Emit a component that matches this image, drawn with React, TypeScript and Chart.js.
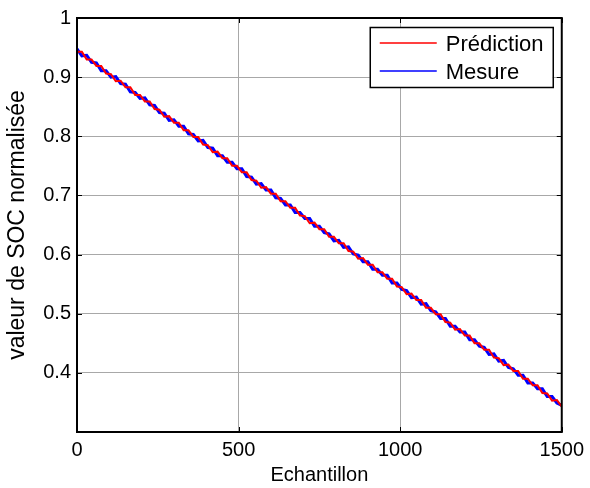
import React, { useEffect, useRef } from "react";
import { Chart, registerables } from "chart.js";

Chart.register(...registerables);

// Sample index step between stored points (samples 0..1500)
const SAMPLE_STEP = 15;

const prediction: number[] = [
  0.943, 0.943, 0.930, 0.930, 0.919, 0.919, 0.906, 0.905, 0.893, 0.894,
  0.883, 0.883, 0.870, 0.870, 0.859, 0.859, 0.846, 0.845, 0.833, 0.834,
  0.823, 0.823, 0.810, 0.810, 0.799, 0.799, 0.786, 0.785, 0.773, 0.774,
  0.763, 0.763, 0.750, 0.750, 0.739, 0.739, 0.726, 0.725, 0.713, 0.714,
  0.703, 0.703, 0.690, 0.690, 0.679, 0.679, 0.666, 0.665, 0.653, 0.654,
  0.643, 0.643, 0.630, 0.630, 0.619, 0.619, 0.606, 0.605, 0.593, 0.594,
  0.583, 0.583, 0.570, 0.570, 0.559, 0.559, 0.546, 0.545, 0.533, 0.534,
  0.523, 0.523, 0.510, 0.510, 0.499, 0.499, 0.486, 0.485, 0.473, 0.474,
  0.463, 0.463, 0.450, 0.450, 0.439, 0.439, 0.426, 0.425, 0.413, 0.414,
  0.403, 0.403, 0.390, 0.390, 0.379, 0.379, 0.366, 0.365, 0.353, 0.354,
  0.343,
];

const mesure: number[] = [
  0.948, 0.936, 0.937, 0.925, 0.924, 0.911, 0.911, 0.900, 0.901, 0.889,
  0.888, 0.875, 0.874, 0.864, 0.865, 0.853, 0.852, 0.840, 0.839, 0.827,
  0.828, 0.817, 0.817, 0.804, 0.803, 0.792, 0.793, 0.781, 0.780, 0.767,
  0.767, 0.756, 0.756, 0.745, 0.745, 0.732, 0.731, 0.719, 0.720, 0.709,
  0.709, 0.696, 0.695, 0.684, 0.684, 0.671, 0.671, 0.661, 0.661, 0.648,
  0.648, 0.637, 0.635, 0.623, 0.624, 0.612, 0.613, 0.601, 0.599, 0.588,
  0.588, 0.575, 0.575, 0.565, 0.565, 0.552, 0.552, 0.541, 0.539, 0.527,
  0.528, 0.516, 0.517, 0.505, 0.503, 0.492, 0.492, 0.479, 0.479, 0.469,
  0.469, 0.456, 0.456, 0.445, 0.443, 0.431, 0.432, 0.420, 0.421, 0.409,
  0.407, 0.396, 0.396, 0.383, 0.383, 0.373, 0.373, 0.360, 0.360, 0.349,
  0.345,
];

const seriesLabels = ["Prédiction", "Mesure"];
const seriesColors = ["#ff0000", "#0000ff"];
const xTicks = [0, 500, 1000, 1500];
const yTicks = [0.3, 0.4, 0.5, 0.6, 0.7, 0.8, 0.9, 1];
const xTitle = "Echantillon";
const yTitle = "valeur de SOC normalisée";

const FONT = "'Liberation Sans', Arial, sans-serif";

const toPoints = (vals: number[]) =>
  vals.map((v, i) => ({ x: i * SAMPLE_STEP, y: v }));

const framePlugin = {
  id: "matlabFrame",
  afterDatasetsDraw(chart: any) {
    const { ctx, chartArea: a, scales } = chart;
    ctx.save();
    // inward tick marks
    ctx.strokeStyle = "#000";
    ctx.lineWidth = 1;
    const tl = 5;
    xTicks.forEach((t) => {
      const px = Math.round(scales.x.getPixelForValue(t)) + 0.5;
      ctx.beginPath();
      ctx.moveTo(px, a.bottom);
      ctx.lineTo(px, a.bottom - tl);
      ctx.moveTo(px, a.top);
      ctx.lineTo(px, a.top + tl);
      ctx.stroke();
    });
    yTicks.forEach((t) => {
      const py = Math.round(scales.y.getPixelForValue(t)) + 0.5;
      ctx.beginPath();
      ctx.moveTo(a.left, py);
      ctx.lineTo(a.left + tl, py);
      ctx.moveTo(a.right, py);
      ctx.lineTo(a.right - tl, py);
      ctx.stroke();
    });
    // box
    ctx.lineWidth = 2;
    ctx.strokeRect(a.left, a.top, a.right - a.left, a.bottom - a.top);

    // legend box
    const bw = 183;
    const bh = 60;
    const bx = a.right - 9 - bw;
    const by = a.top + 9;
    ctx.fillStyle = "#fff";
    ctx.fillRect(bx, by, bw, bh);
    ctx.lineWidth = 1.5;
    ctx.strokeStyle = "#000";
    ctx.strokeRect(bx + 0.5, by + 0.5, bw, bh);
    ctx.font = `22px ${FONT}`;
    ctx.textBaseline = "middle";
    ctx.textAlign = "left";
    seriesLabels.forEach((label, i) => {
      const cy = by + 16 + i * 28;
      ctx.beginPath();
      ctx.lineWidth = 1.5;
      ctx.strokeStyle = seriesColors[i];
      ctx.moveTo(bx + 10, cy);
      ctx.lineTo(bx + 67, cy);
      ctx.stroke();
      ctx.fillStyle = "#000";
      ctx.fillText(label, bx + 76, cy + 2);
    });
    ctx.restore();
  },
};

export default function App() {
  const ref = useRef<HTMLCanvasElement>(null);

  useEffect(() => {
    if (!ref.current) return;
    const chart = new Chart(ref.current, {
      type: "line",
      data: {
        datasets: [
          {
            label: seriesLabels[0],
            data: toPoints(prediction),
            borderColor: seriesColors[0],
            backgroundColor: seriesColors[0],
            borderWidth: 2,
            pointRadius: 0,
            tension: 0,
          },
          {
            label: seriesLabels[1],
            data: toPoints(mesure),
            borderColor: seriesColors[1],
            backgroundColor: seriesColors[1],
            borderWidth: 3,
            pointRadius: 0,
            tension: 0,
          },
        ],
      },
      options: {
        responsive: false,
        animation: false,
        layout: { padding: { top: 14, right: 28, left: 0, bottom: 0 } },
        plugins: {
          legend: { display: false },
          tooltip: { enabled: false },
        },
        scales: {
          x: {
            type: "linear",
            min: 0,
            max: 1500,
            afterBuildTicks: (s: any) => {
              s.ticks = xTicks.map((v) => ({ value: v }));
            },
            afterFit: (s: any) => {
              s.height = 56;
            },
            border: { display: false },
            grid: { color: "#a8a8a8", lineWidth: 1, drawTicks: false },
            ticks: {
              color: "#000",
              padding: 6,
              maxRotation: 0,
              font: { family: FONT, size: 20 },
              callback: (v: any) => String(v),
            },
            title: {
              display: true,
              text: xTitle,
              color: "#000",
              font: { family: FONT, size: 20 },
              padding: { top: 0, bottom: 1 },
            },
          },
          y: {
            type: "linear",
            min: 0.3,
            max: 1,
            afterBuildTicks: (s: any) => {
              s.ticks = yTicks.map((v) => ({ value: v }));
            },
            afterFit: (s: any) => {
              s.width = 77;
            },
            border: { display: false },
            grid: { color: "#a8a8a8", lineWidth: 1, drawTicks: false },
            ticks: {
              color: "#000",
              padding: 6,
              font: { family: FONT, size: 20 },
              callback: (v: any) =>
                Math.abs(v - 0.3) < 1e-6 ? "" : String(Math.round(v * 10) / 10),
            },
            title: {
              display: true,
              text: yTitle,
              color: "#000",
              font: { family: FONT, size: 23 },
              padding: { top: 4, bottom: 0 },
            },
          },
        },
      },
      plugins: [framePlugin],
    });
    return () => chart.destroy();
  }, []);

  return (
    <div style={{ position: "fixed", left: 0, top: 0, width: 590, height: 488, background: "#fff" }}>
      <canvas ref={ref} width={590} height={488} style={{ display: "block" }} />
    </div>
  );
}
